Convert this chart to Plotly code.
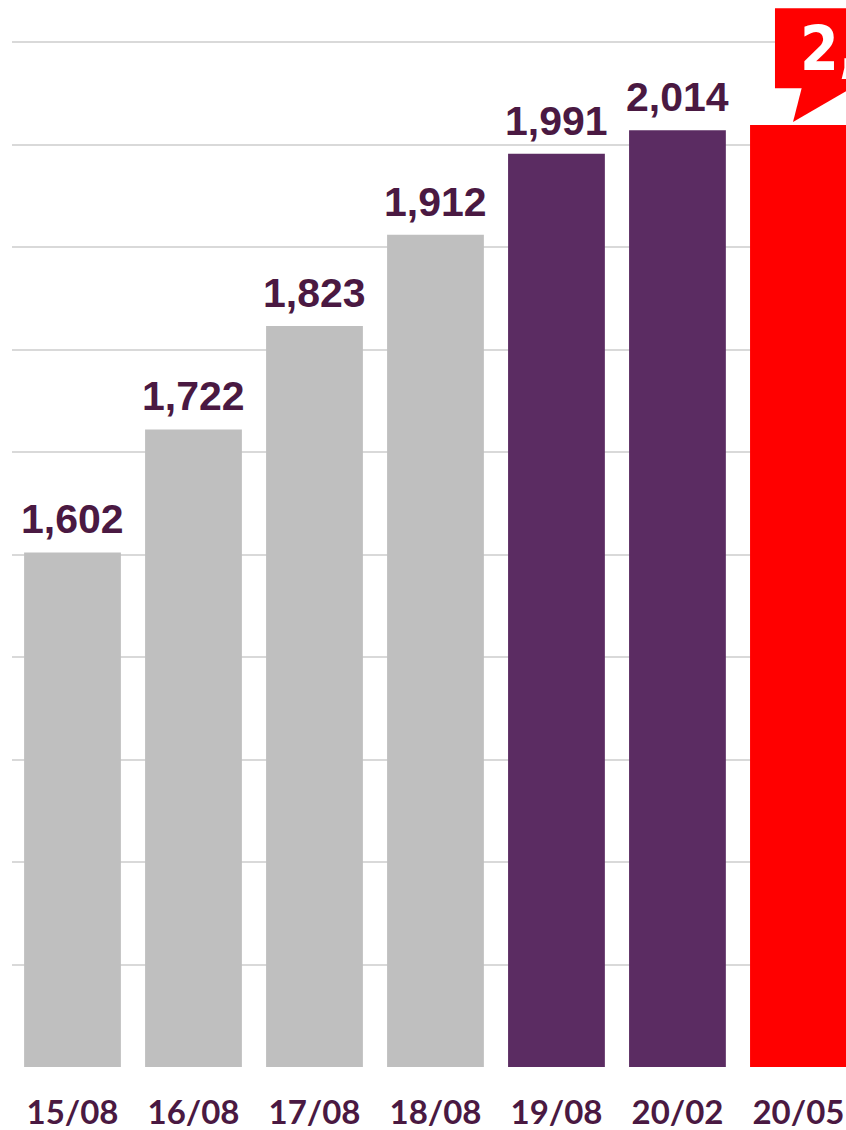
import plotly.graph_objects as go

categories = ["15/08", "16/08", "17/08", "18/08", "19/08", "20/02", "20/05"]
values = [1602, 1722, 1823, 1912, 1991, 2014, 2019]
colors = ["#bfbfbf", "#bfbfbf", "#bfbfbf", "#bfbfbf", "#5b2c62", "#5b2c62", "#ff0000"]
labels = ["1,602", "1,722", "1,823", "1,912", "1,991", "2,014", ""]
callout_text = "2,019"

LABEL_COLOR = "#4a1942"

fig = go.Figure()
fig.add_trace(go.Bar(
    x=list(range(len(categories))), y=values,
    marker=dict(color=colors, line=dict(width=0)),
    hoverinfo="skip",
))

annotations = []
for i, (v, t) in enumerate(zip(values, labels)):
    if t:
        annotations.append(dict(
            x=i, y=v, xref="x", yref="y", text=t, showarrow=False,
            yanchor="bottom", yshift=8,
            font=dict(family="Liberation Sans, Arial, sans-serif", size=41,
                      color=LABEL_COLOR, weight="bold"),
        ))

# callout for the last bar
annotations.append(dict(
    x=(798 - 12) / 834, y=2094, xref="paper", yref="y", yanchor="middle",
    xanchor="left", text=callout_text, showarrow=False,
    font=dict(family="Liberation Sans Narrow, DejaVu Sans Condensed, sans-serif",
              size=62, color="white", weight="bold"),
))

fig.add_shape(type="rect", xref="x", yref="y", x0=5.806, x1=7.2, y0=2055, y1=2133,
              fillcolor="#ff0000", line=dict(width=0), layer="above")
fig.add_shape(type="path", xref="x", yref="y",
              path="M 6.029 2056 L 6.45 2056 L 5.955 2022 Z",
              fillcolor="#ff0000", line=dict(width=0), layer="above")

fig.update_layout(
    width=846, height=1130,
    margin=dict(l=12, r=0, t=0, b=63, autoexpand=False),
    paper_bgcolor="white", plot_bgcolor="white",
    bargap=0.2,
    showlegend=False,
    annotations=annotations,
    xaxis=dict(
        range=[-0.5, 6.393], automargin=False,
        tickmode="array", tickvals=list(range(len(categories))), ticktext=categories,
        tickfont=dict(family="Lato, sans-serif", size=33, color=LABEL_COLOR, weight="bold"),
        showgrid=False, zeroline=False, showline=False, ticks="",
        ticklabelstandoff=23,
    ),
    yaxis=dict(
        range=[1100, 2141], dtick=100, tick0=1100, automargin=False,
        showgrid=True, gridcolor="#d9d9d9", gridwidth=2,
        showticklabels=False, zeroline=False, showline=False, ticks="",
    ),
)

fig.write_html("out.html", config={"displayModeBar": False},
               post_script="document.body.style.margin='0';document.body.style.overflow='hidden';")
